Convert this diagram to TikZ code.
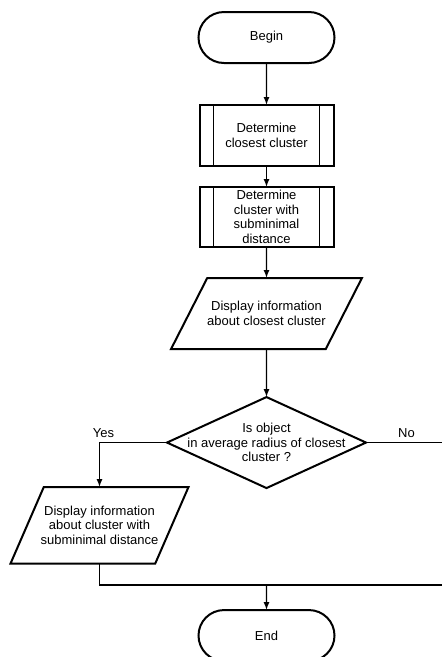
\documentclass[tikz,border=0pt]{standalone}
\usepackage{fontspec}
\setmainfont{Liberation Sans}
\newlength{\vdist}
\newlength{\vdistshort}
\newlength{\vdistlong}
\usepackage{tikz}
\usetikzlibrary{positioning}
\usetikzlibrary{arrows.meta}
\usetikzlibrary{shapes.misc}
\usetikzlibrary{shapes.geometric}
\tikzstyle{term}=[draw, rounded rectangle, minimum width=136pt, minimum height=51pt, line width=2pt]
\tikzstyle{subproc}=[draw, rectangle, align=center, minimum width=134pt, minimum height=61pt, line width=2pt,
	path picture={\draw [-, line width=1.6pt] ([xshift=14pt]path picture bounding box.north west) -- ([xshift=14pt]path picture bounding box.south west);
		\draw [-, line width=1.6pt] ([xshift=-14pt]path picture bounding box.north east) -- ([xshift=-14pt]path picture bounding box.south east);}]
\tikzstyle{io}=[draw, trapezium, trapezium left angle=63, trapezium right angle=117, trapezium stretches body, align=center, inner ysep=23.5pt, minimum width=189pt, minimum height=71pt, line width=2pt]
\tikzstyle{decide}=[draw, diamond, minimum width=199pt, minimum height=91pt, line width=2pt]

\begin{document}
\begin{tikzpicture}[inner sep=0pt, outer sep=0pt, line width=1.3pt, -{Latex[length=8pt, width=6pt]}, font=\fontsize{13}{14.5}\selectfont]
				
				\useasboundingbox (0,0) rectangle (442pt,-657pt);
				\clip (0,0) rectangle (442pt,-657pt);
				
				\setlength{\vdist}{42pt}
				\setlength{\vdistshort}{21pt}
				\setlength{\vdistlong}{48pt}
				
				\node (begin) [term] at (266.5pt,-37.5pt) {Begin};
				\node (det) [subproc, below=\vdist of begin] {Determine\\closest cluster};
				\node (sub) [subproc, below=\vdistshort of det, minimum height=60pt] {Determine\\cluster with\\subminimal\\distance};
				\node (disp) [io, below=31pt of sub] {Display information\\about closest cluster};
				\node (dec) [decide, below=\vdistlong of disp, label={[align=center]center:Is object\\in average radius of closest\\cluster ?}] {};
				%
				\node (dispsub) [io, below=-1pt of dec.south, xshift=-167pt, inner xsep=-4pt, inner ysep=19pt, minimum width=178pt, minimum height=76pt, trapezium left angle=66.5, trapezium right angle=113.5] {Display information\\about cluster with\\subminimal distance};
				\node (end) [term, below=122pt of dec] {End};
				
				\coordinate [above=25pt of end] (merge);
				\coordinate (edge) at (447pt,0);
				
				\draw (begin) to (det);
				\draw (det) to (sub);
				\draw (sub) to (disp);
				\draw (disp) to (dec);
				\draw (dec.west) -| node (yes) [pos=0.5, above=5pt, xshift=4pt, text depth=0pt] {Yes} (dispsub.north);
				\draw [-] (dec.east) -- node (no) [above=5pt, text depth=0pt] {No} (dec.east -| edge) |- (dispsub.south |- merge) -- (dispsub.south);
				\draw (merge) to (end);
				\end{tikzpicture}
\end{document}
